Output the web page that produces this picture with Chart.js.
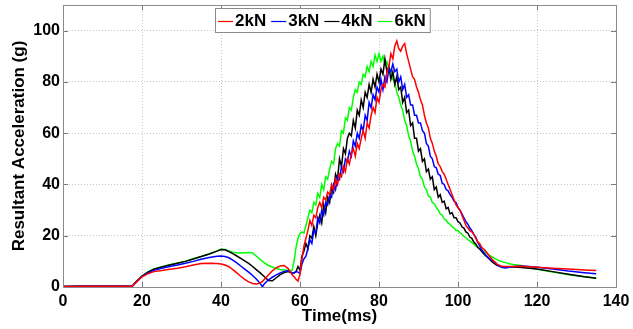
<!DOCTYPE html>
<html><head><meta charset="utf-8">
<script src="https://cdn.jsdelivr.net/npm/chart.js@4/dist/chart.umd.min.js"></script>
<style>html,body{margin:0;padding:0;background:#fff;}#wrap{width:633px;height:329px;}</style>
</head><body><div id="wrap"><canvas id="c" width="633" height="329"></canvas></div>
<script>
const timeMs = [0,5,10,15,17.5,18.5,20,21.5,23,25,27,29,31,33,35,37,39,40,41,42,43,44,45,46,47,48,49,50,50.5,51,52,53,54,55,56,57,58,
58.5,59,59.5,60,60.5,61,61.5,62,62.5,63,
63.5,64,64.5,65,65.5,66,66.5,67,67.5,68,
68.5,69,69.5,70,70.5,71,71.5,72,72.5,73,
73.5,74,74.5,75,75.5,76,76.5,77,77.5,78,
78.5,79,79.5,80,80.5,81,81.5,82,82.5,83,
83.5,84,84.5,85,85.5,86,86.5,87,87.5,88,
88.5,89,89.5,90,90.5,91,91.5,92,92.5,93,
93.5,94,94.5,95,95.5,96,96.5,97,97.5,98,
98.5,99,99.5,100,100.5,101,101.5,102,102.5,103,
103.5,104,104.5,105,105.5,106,106.5,107,107.5,108,
108.5,109,109.5,110,
111,112,113,114,116,118,120,124,128,132,135];

const accel2kN = [0.2,0.3,0.3,0.3,0.3,1.8,4,5.2,6,6.4,6.9,7.3,7.9,8.6,9.2,9.3,9.2,9,8.6,7.9,6.8,5.5,4.2,3,2,1.4,1.2,1.6,2.2,3,4.7,6.3,7.5,8.2,8.4,7.2,4.8,
4,3,2.3,5,11,16,19,22,26,24,
28,27,31,33,31,35,34,37,36,40,
38,42,40,44,43,47,45,50,48,52,
54,51,56,54,58,61,58,64,62,67,
70,68,74,72,77,79,78,84,86,91,
89,94,96,93,92,94,95,91,88,85,
82,81,78,76,73,71,67,64,62,58,
56,53,51,48,47,45,44,42,40,38,
36,34,32,31,30,28,26,24,23,22,
21.5,20.5,19,17.5,17,15.5,14.8,14,13,12,
11,10.2,9.5,8.8,
8.1,8,8,8,8.1,7.9,7.7,7.3,7,6.6,6.4];

const accel3kN = [0.2,0.3,0.3,0.3,0.3,1.9,4.1,5.5,6.5,7.3,8,8.6,9.3,10,10.8,11.5,12,12.1,11.9,11.4,10.5,9.4,8.2,7,5.8,4.5,3,1.2,0.1,1.3,2.8,3.8,4.7,5.5,6.1,6.3,5.6,
5.5,6,5.8,5.3,9,11,12,15,18.4,17,
22,21,27,25,30,28,33,32,36,35,
40,38,43,42,47,45,50,49,53,51,
57,55,60,58,63,61,67,65,72,70,
75,73,78,76,81,77,82,80,85,84,
87,84,85,80,82,77,79,74,75,71,
71,67,67,64,64,61,60,56,55,51,
50,47,46.5,44,43.5,40.5,40,38,37.5,36,
35,33.5,33,31,30,28.5,27,25.5,24.5,23,
22,20.5,19.5,17.5,16,14.5,13.5,12.5,11.8,11,
10.5,10,9.3,8.5,
7.7,7.4,7.7,8,8.2,8,7.7,7,6.2,5.6,5.2];

const accel4kN = [0.2,0.3,0.3,0.3,0.3,2,4.3,5.8,6.9,7.8,8.6,9.3,10,10.9,11.9,12.9,14,14.6,14.5,13.8,13,12.1,11.2,10.2,9.2,8,6.7,5.4,4.7,4,2.5,2.4,3.6,4.8,5.6,6,5.5,
5.5,6,8,6.5,12,14,17,15,20,19,
23.5,20,25,28,25,32,29,35,33,39,
37,44,42,50,47,54,52,58,60,59,
65,62,69,67,73,70,76,74,79,76,
81,78,83,80,85,83,89,84,86,81,
84,79,82,77,78,72,74,68,69,63,
64,58,58,53,54,49,50,45,46,42,
43,38,39,35,36,33,33.5,30.5,31,28.5,
29,27,27,25.5,25,23.5,23,21.5,21,19.5,
19,17.5,16.8,15.5,14.8,13.8,13,12.2,11.5,10.8,
10,9.4,8.8,8.4,
8,7.9,7.9,7.8,7.6,7.3,7,6,5,4,3.4];

const accel6kN = [0.2,0.3,0.3,0.3,0.3,2,4.3,5.9,7,7.9,8.7,9.4,10.1,11,11.9,12.9,14.1,14.7,14.6,14.1,13.6,13.4,13.3,13.4,13.5,13.3,12,10.6,10,9.4,8.4,7.8,7.2,6.8,6.6,6.4,6.5,
10,15.5,19,21,21.5,21,24,27,30,29,
33,32,36.5,35,40,38,43,42,46,49,
48,54,56,55,61,60,66,65,70,69,
74,77,76,80,79,83,82,86,84,88,
86,90.5,88,91,88,90,87,88,85,85,
81,80,76,74,71,69,65,63,59,57,
53,51,48,46,43,42,39,38,35.5,35,
33,32.5,31,30,28.5,28,26.5,26,25,24.5,
23.5,23,22,22,21.2,20.5,19.8,19.2,18.5,18,
17.3,16.7,16,15.5,14.8,14.3,13.8,13.3,12.8,12.3,
11.8,11.4,11,10.6,
9.9,9.5,9.1,8.8,8.4,7.6,6.9,5.8,4.8,4,3.5];

const seriesLabels = ['2kN','3kN','4kN','6kN'];
const seriesValues = [accel2kN, accel3kN, accel4kN, accel6kN];
const seriesColors = ['#ff0000','#0000ff','#000000','#00ff00'];
const xAxisTitle = 'Time(ms)';
const yAxisTitle = 'Resultant Acceleration (g)';

const FONT = "'Liberation Sans', Arial, sans-serif";

const framePlugin = {
  id: 'frame',
  afterDraw(chart) {
    const {ctx, chartArea: a, scales} = chart;
    ctx.save();
    ctx.strokeStyle = '#7a7a7a';
    ctx.lineWidth = 1;
    ctx.setLineDash([]);
    const tl = 5;
    scales.x.ticks.forEach(t => {
      const px = Math.round(scales.x.getPixelForValue(t.value)) + 0.5;
      ctx.beginPath(); ctx.moveTo(px, a.bottom); ctx.lineTo(px, a.bottom - tl); ctx.stroke();
      ctx.beginPath(); ctx.moveTo(px, a.top); ctx.lineTo(px, a.top + tl); ctx.stroke();
    });
    scales.y.ticks.forEach(t => {
      const py = Math.round(scales.y.getPixelForValue(t.value)) + 0.5;
      ctx.beginPath(); ctx.moveTo(a.left, py); ctx.lineTo(a.left + tl, py); ctx.stroke();
      ctx.beginPath(); ctx.moveTo(a.right, py); ctx.lineTo(a.right - tl, py); ctx.stroke();
    });
    ctx.strokeStyle = '#8a8a8a';
    ctx.strokeRect(Math.round(a.left) + 0.5, Math.round(a.top) + 0.5, Math.round(a.right - a.left), Math.round(a.bottom - a.top));
    ctx.font = "bold 17px " + FONT;
    ctx.textBaseline = 'middle';
    ctx.textAlign = 'left';
    const boxL = a.left + 152, boxT = a.top + 3, boxH = 24;
    let w = 3;
    const widths = seriesLabels.map(s => ctx.measureText(s).width);
    widths.forEach(tw => { w += 17 + tw + 5; });
    w = w - 5 + 4;
    ctx.fillStyle = '#fff';
    ctx.fillRect(boxL, boxT, w, boxH);
    ctx.strokeStyle = '#8a8a8a';
    ctx.strokeRect(boxL + 0.5, boxT + 0.5, w, boxH);
    let x = boxL + 3;
    const cy = boxT + boxH / 2 + 0.5;
    chart.data.datasets.forEach((ds, i) => {
      ctx.strokeStyle = ds.borderColor;
      ctx.lineWidth = 1.2;
      ctx.beginPath(); ctx.moveTo(x, Math.round(cy) + 0.5); ctx.lineTo(x + 15, Math.round(cy) + 0.5); ctx.stroke();
      ctx.fillStyle = '#000';
      ctx.fillText(ds.label, x + 17, cy + 1);
      x += 17 + widths[i] + 5;
    });
    ctx.restore();
  }
};

const datasets = seriesLabels.map((lab, k) => ({
  label: lab,
  data: timeMs.map((t, i) => ({x: t, y: seriesValues[k][i]})),
  borderColor: seriesColors[k],
  backgroundColor: seriesColors[k],
  borderWidth: 1.5,
  pointRadius: 0,
  tension: 0,
  fill: false
}));

new Chart(document.getElementById('c'), {
  type: 'line',
  data: {datasets},
  options: {
    responsive: false,
    animation: false,
    devicePixelRatio: 1,
    layout: {padding: {top: 5, right: 17, left: 0, bottom: 0}},
    plugins: {legend: {display: false}, tooltip: {enabled: false}},
    scales: {
      x: {
        type: 'linear', min: 0, max: 140,
        ticks: {stepSize: 20, includeBounds: false, maxRotation: 0, color: '#000', padding: 5,
                font: {family: FONT, size: 16, weight: 'bold'}},
        grid: {color: '#c4c4c4', drawTicks: false, lineWidth: 1},
        border: {display: false, dash: [1, 2]},
        title: {display: true, text: xAxisTitle, color: '#000', padding: {top: 0, bottom: 4},
                font: {family: FONT, size: 17, weight: 'bold', lineHeight: 1}},
        afterFit(s) { s.height = 42; s.paddingLeft = 0; s.paddingRight = 0; }
      },
      y: {
        min: 0, max: 110,
        ticks: {stepSize: 20, includeBounds: false, color: '#000', padding: 3,
                font: {family: FONT, size: 16, weight: 'bold'}},
        grid: {color: '#c4c4c4', drawTicks: false, lineWidth: 1},
        border: {display: false, dash: [1, 2]},
        title: {display: true, text: yAxisTitle, color: '#000', padding: {top: 11, bottom: 0},
                font: {family: FONT, size: 17, weight: 'bold', lineHeight: 1}},
        afterFit(s) { s.width = 63; s.paddingTop = 0; s.paddingBottom = 0; }
      }
    }
  },
  plugins: [framePlugin]
});
</script>
</body></html>
